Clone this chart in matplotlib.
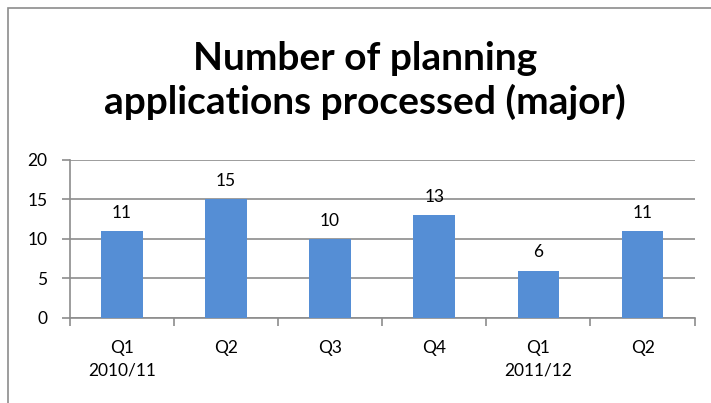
import matplotlib.pyplot as plt
from matplotlib.patches import Rectangle
import numpy as np

quarters = ['Q1\n2010/11', 'Q2', 'Q3', 'Q4', 'Q1\n2011/12', 'Q2']
counts = [11, 15, 10, 13, 6, 11]

plt.rcParams['font.family'] = ['Lato', 'DejaVu Sans']

fig = plt.figure(figsize=(7.11, 4.03), dpi=100)
ax = fig.add_axes([0.098, 0.211, 0.879, 0.392])

# outer chart border
fig.patches.append(Rectangle((0.011, -0.1), 1.2, 1.08, transform=fig.transFigure,
                             fill=False, edgecolor='#8c8c8c', linewidth=1.2))

x = np.arange(len(counts))
bars = ax.bar(x, counts, width=0.4, color='#558ed5', zorder=3)
for xi, v in zip(x, counts):
    ax.text(xi, v + 1.3, str(v), ha='center', va='bottom', fontsize=12.5, color='black')

ax.set_xlim(-0.5, len(counts) - 0.5)
ax.set_ylim(0, 20)
ax.set_yticks([0, 5, 10, 15, 20])
ax.yaxis.grid(True, color='#8c8c8c', linewidth=1.2, zorder=0)
ax.set_axisbelow(True)

ax.set_xticks(x)
ax.set_xticklabels(quarters, fontsize=12.5, linespacing=1.5)
ax.set_xticks(np.arange(-0.5, len(counts)), minor=True)
ax.tick_params(axis='x', which='major', length=0, pad=16)
ax.tick_params(axis='x', which='minor', length=6, color='#8c8c8c', width=1.2)
ax.tick_params(axis='y', length=6, color='#8c8c8c', width=1.2, labelsize=12.5, pad=10)

for side in ['top', 'right']:
    ax.spines[side].set_visible(False)
for side in ['left', 'bottom']:
    ax.spines[side].set_color('#8c8c8c')
    ax.spines[side].set_linewidth(1.2)

fig.text(0.513, 0.80, 'Number of planning\napplications processed (major)',
         ha='center', va='center', fontsize=28, fontweight='bold', linespacing=1.25)

fig.savefig('out.png', dpi=100)
